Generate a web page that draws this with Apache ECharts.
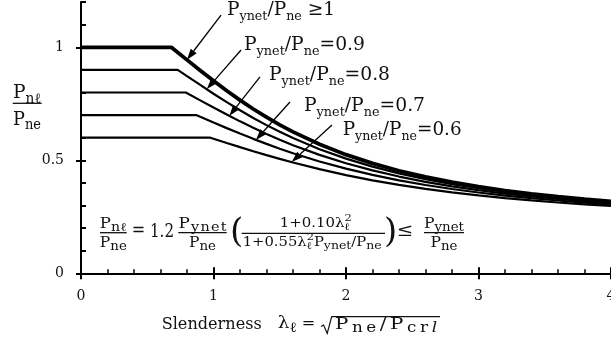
<!DOCTYPE html>
<html>
<head>
<meta charset="utf-8">
<script src="https://cdn.jsdelivr.net/npm/echarts@6/dist/echarts.min.js"></script>
<style>
  html, body { margin: 0; padding: 0; background: #fff; }
  #chart { width: 611px; height: 356px; }
</style>
</head>
<body>
<div id="chart"></div>
<script>
// Slenderness values where the descending branch is tabulated
const lambdaGrid = [0.7, 0.8, 0.9, 1.0, 1.1, 1.2, 1.3, 1.4, 1.5, 1.6, 1.8, 2.0,
                    2.2, 2.4, 2.6, 2.8, 3.0, 3.2, 3.4, 3.6, 3.8, 4.0];

// Pynet/Pne ratio of each curve (plateau height) and where its plateau ends
const yieldRatios = [1, 0.9, 0.8, 0.7, 0.6];
const kneeLambda  = [0.682, 0.730, 0.791, 0.869, 0.976];

// Pnl/Pne on lambdaGrid (null = still on the plateau)
const strengthR10 = [0.9916, 0.9444, 0.8974, 0.8516, 0.8077, 0.7661, 0.7270, 0.6907, 0.6570, 0.6259, 0.5711, 0.5250,
                     0.4863, 0.4537, 0.4263, 0.4030, 0.3832, 0.3662, 0.3516, 0.3390, 0.3280, 0.3184];
const strengthR09 = [null, 0.8727, 0.8334, 0.7946, 0.7572, 0.7213, 0.6874, 0.6556, 0.6259, 0.5983, 0.5492, 0.5074,
                     0.4720, 0.4420, 0.4165, 0.3948, 0.3762, 0.3602, 0.3464, 0.3344, 0.3240, 0.3148];
const strengthR08 = [null, 0.7970, 0.7651, 0.7333, 0.7023, 0.6723, 0.6436, 0.6165, 0.5910, 0.5670, 0.5240, 0.4870,
                     0.4552, 0.4281, 0.4048, 0.3849, 0.3677, 0.3529, 0.3401, 0.3289, 0.3191, 0.3104];
const strengthR07 = [null, null, 0.6922, 0.6671, 0.6424, 0.6182, 0.5949, 0.5726, 0.5514, 0.5313, 0.4949, 0.4630,
                     0.4353, 0.4114, 0.3908, 0.3729, 0.3574, 0.3440, 0.3323, 0.3220, 0.3130, 0.3050];
const strengthR06 = [null, null, null, 0.5955, 0.5768, 0.5584, 0.5403, 0.5229, 0.5062, 0.4902, 0.4607, 0.4345,
                     0.4114, 0.3912, 0.3735, 0.3581, 0.3446, 0.3328, 0.3224, 0.3133, 0.3052, 0.2981];
const strengthCurves = [strengthR10, strengthR09, strengthR08, strengthR07, strengthR06];

// Curve callouts: text, label anchor (left, baseline), arrow tail and arrow tip (data units)
const calloutText  = [' \u22651', '=0.9', '=0.8', '=0.7', '=0.6'];
const calloutAnchor = [[1.102, 1.134], [1.230, 0.979], [1.419, 0.846], [1.683, 0.712], [1.975, 0.603]];
const arrowTail = [[1.057, 1.142], [1.208, 0.988], [1.351, 0.869], [1.577, 0.758], [1.894, 0.656]];
const arrowTip  = [[0.80, 0.945], [0.95, 0.815], [1.12, 0.697], [1.32, 0.590], [1.59, 0.493]];

const INK = '#111';
const FONT = '"DejaVu Serif", serif';

const chart = echarts.init(document.getElementById('chart'), null, { renderer: 'canvas' });

function curveData(i) {
  const r = yieldRatios[i];
  const pts = [[0, r], [kneeLambda[i], r]];
  strengthCurves[i].forEach((v, k) => { if (v !== null) pts.push([lambdaGrid[k], v]); });
  return pts;
}

const series = yieldRatios.map((r, i) => ({
  type: 'line',
  xAxisIndex: 0,
  yAxisIndex: 0,
  data: curveData(i),
  showSymbol: false,
  symbol: 'none',
  lineStyle: { color: '#000', width: i === 0 ? 3.8 : 2.2 },
  silent: true,
  z: 3
}));

const axisLineStyle = { show: true, onZero: false, lineStyle: { color: '#000', width: 2 } };

chart.setOption({
  animation: false,
  backgroundColor: '#fff',
  grid: [
    { left: 81, right: 0, top: 2.1, height: 271.2, containLabel: false, outerBoundsMode: 'none' },
    { left: 81, right: 0, top: 47.3, height: 226, containLabel: false, outerBoundsMode: 'none' }
  ],
  xAxis: [
    { // inner ticks + minor ticks
      type: 'value', gridIndex: 0, min: 0, max: 4, interval: 1, position: 'bottom',
      axisLine: axisLineStyle,
      axisTick: { show: true, inside: true, length: 6, lineStyle: { color: '#000', width: 2 } },
      minorTick: { show: true, splitNumber: 5, length: 4, lineStyle: { color: '#000', width: 1.5 } },
      axisLabel: { show: false }, splitLine: { show: false }, minorSplitLine: { show: false }
    },
    { // outer ticks + labels
      type: 'value', gridIndex: 0, min: 0, max: 4, interval: 1, position: 'bottom',
      axisLine: { show: false },
      axisTick: { show: true, inside: false, length: 6, lineStyle: { color: '#000', width: 2 } },
      axisLabel: { show: true, margin: 16, color: INK, fontFamily: FONT, fontSize: 14 },
      splitLine: { show: false }
    },
    { type: 'value', gridIndex: 1, min: 0, max: 4, show: false }
  ],
  yAxis: [
    { // inner ticks every 0.1
      type: 'value', gridIndex: 0, min: 0, max: 1.2, interval: 0.1, position: 'left',
      axisLine: axisLineStyle,
      axisTick: { show: true, inside: true, length: 5, lineStyle: { color: '#000', width: 2 } },
      axisLabel: { show: false }, splitLine: { show: false }
    },
    { // outer major ticks + labels
      type: 'value', gridIndex: 1, min: 0, max: 1, interval: 0.5, position: 'left',
      axisLine: { show: false },
      axisTick: { show: true, inside: false, length: 5, lineStyle: { color: '#000', width: 2 } },
      axisLabel: { show: true, margin: 17, color: INK, fontFamily: FONT, fontSize: 14 },
      splitLine: { show: false }
    }
  ],
  series: series
});

// ---- text layout helpers for the typeset formulas ----
const mctx = document.createElement('canvas').getContext('2d');
function measure(t, s, it) {
  mctx.font = (it ? 'italic ' : '') + s + 'px ' + FONT;
  return mctx.measureText(t).width;
}
// tokens: {t, s, dy, it, stack}; base = baseline y.
// fitW: target width, reached by slightly wider glyphs (up to 1.2x) plus letter spacing for the rest.
function mathRow(tokens, x0, base, align, fitW) {
  // split into single glyphs; stacked pairs share one slot
  const slots = [];
  tokens.forEach(tk => {
    const chars = Array.from(tk.t);
    chars.forEach((c, ci) => {
      const g = { t: c, s: tk.s, dy: tk.dy || 0, it: tk.it, w: measure(c, tk.s, tk.it) };
      const last = slots[slots.length - 1];
      if (last && last.open) { last.glyphs.push(g); last.w = Math.max(last.w, g.w); last.open = false; }
      else slots.push({ glyphs: [g], w: g.w, open: !!tk.stack && ci === chars.length - 1 });
    });
  });
  const natural = slots.reduce((a, s) => a + s.w, 0);
  let k = 1, extra = 0;
  if (fitW) {
    k = Math.min(fitW / natural, 1.2);
    extra = slots.length > 1 ? (fitW - natural * k) / (slots.length - 1) : 0;
  }
  const total = fitW || natural;
  let x = align === 'center' ? x0 - total / 2 : x0;
  const out = [];
  slots.forEach(sl => {
    sl.glyphs.forEach(g => out.push({
      type: 'text', silent: true,
      x: x, y: base + g.dy - 0.35 * g.s, scaleX: k,
      style: {
        text: g.t, font: (g.it ? 'italic ' : '') + g.s + 'px ' + FONT, fill: INK,
        textAlign: 'left', textVerticalAlign: 'middle', align: 'left', verticalAlign: 'middle'
      }
    }));
    x += sl.w * k + extra;
  });
  return out;
}
function rule(x1, y1, x2, y2, w) {
  return { type: 'line', silent: true, shape: { x1, y1, x2, y2 }, style: { stroke: INK, lineWidth: w || 1.3 } };
}
const M = 14, S = 12; // main / subscript sizes of the design formula
const P = (s) => ({ t: 'P', s });
const sub = (t, s, dy) => ({ t, s, dy });

const els = [];

// y-axis title  Pnl / Pne
els.push(...mathRow([P(19), sub('n\u2113', 14, 4)], 27, 100, 'center', 28));
els.push(rule(12.7, 103.3, 41.7, 103.3, 1.3));
els.push(...mathRow([P(19), sub('ne', 14, 4)], 27, 126.7, 'center', 28));

// design equation
els.push(...mathRow([P(M), sub('n\u2113', S, 3)], 113.3, 229.3, 'center', 27));
els.push(rule(100, 232.7, 126.7, 232.7, 1.3));
els.push(...mathRow([P(M), sub('ne', S, 3)], 113.3, 248, 'center', 27));
els.push(...mathRow([{ t: '=', s: 18 }], 131.7, 238, 'left', 13.5));
els.push(...mathRow([{ t: '1.2', s: 18 }], 150, 238.3, 'left', 24));
els.push(...mathRow([P(M), sub('ynet', S, 3)], 202.5, 229.3, 'center', 48));
els.push(rule(178.3, 232.7, 226.7, 232.7, 1.3));
els.push(...mathRow([P(M), sub('ne', S, 3)], 202.5, 248, 'center', 27));
els.push(...mathRow([{ t: '(', s: 34 }], 230, 245, 'left'));
els.push(...mathRow([{ t: '1+0.10', s: 13 }, { t: '\u03bb', s: 13 }, { t: '\u2113', s: 10, dy: 3, stack: true }, { t: '2', s: 10, dy: -6 }],
  315.8, 228, 'center', 72));
els.push(rule(241.7, 233.3, 385, 233.3, 1.3));
els.push(...mathRow([{ t: '1+0.55', s: 13 }, { t: '\u03bb', s: 13 }, { t: '\u2113', s: 10, dy: 3, stack: true }, { t: '2', s: 10, dy: -6 },
  P(13), sub('ynet', 11, 3), { t: '/', s: 13 }, P(13), sub('ne', 11, 3)], 312.2, 246.7, 'center', 139));
els.push(...mathRow([{ t: ')', s: 34 }], 384, 245, 'left'));
els.push(...mathRow([{ t: '\u2264', s: 18 }], 396.7, 238, 'left', 16.5));
els.push(...mathRow([P(M), sub('ynet', S, 3)], 444, 229.3, 'center', 40));
els.push(rule(424, 232.7, 464, 232.7, 1.3));
els.push(...mathRow([P(M), sub('ne', S, 3)], 444, 248, 'center', 27));

// x-axis title
els.push(...mathRow([{ t: 'Slenderness', s: 16.5 }], 161.7, 330, 'left', 100));
els.push(...mathRow([{ t: '\u03bb', s: 17 }, sub('\u2113', 14, 3.5)], 277.7, 330, 'left', 19));
els.push(...mathRow([{ t: '=', s: 17 }], 301.7, 330, 'left', 13.5));
els.push({ type: 'polyline', silent: true,
  shape: { points: [[321, 326.5], [323.6, 325], [327.2, 333.5], [331.7, 316.7], [440, 316.7]] },
  style: { stroke: INK, lineWidth: 1.2, fill: null } });
els.push(...mathRow([P(16.5), sub('ne', 14, 3.5), { t: '/', s: 16.5 }, P(16.5), sub('cr', 14, 3.5), { t: 'l', s: 14, dy: 3.5, it: true }],
  335, 330, 'left', 102));

// curve callouts with arrows
const calloutWidth = [108, 121, 121, 121, 119];
const toPx = (pt) => chart.convertToPixel({ xAxisIndex: 0, yAxisIndex: 0 }, pt);
calloutText.forEach((txt, i) => {
  const a = toPx(calloutAnchor[i]);
  els.push(...mathRow([P(19), sub('ynet', 13, 4.5), { t: '/', s: 19 }, P(19), sub('ne', 13, 4.5), { t: txt, s: 19 }],
    a[0], a[1], 'left', calloutWidth[i]));
  const t0 = toPx(arrowTail[i]);
  const t1 = toPx(arrowTip[i]);
  const dx = t1[0] - t0[0], dy = t1[1] - t0[1];
  const len = Math.hypot(dx, dy), ux = dx / len, uy = dy / len;
  const hl = 11, hw = 3.8;
  const bx = t1[0] - ux * hl, by = t1[1] - uy * hl;
  els.push({ type: 'line', silent: true, shape: { x1: t0[0], y1: t0[1], x2: bx, y2: by }, style: { stroke: '#000', lineWidth: 1.3 } });
  els.push({ type: 'polygon', silent: true,
    shape: { points: [[t1[0], t1[1]], [bx - uy * hw, by + ux * hw], [bx + uy * hw, by - ux * hw]] },
    style: { fill: '#000' } });
});

chart.setOption({ graphic: { elements: els } });
</script>
</body>
</html>
